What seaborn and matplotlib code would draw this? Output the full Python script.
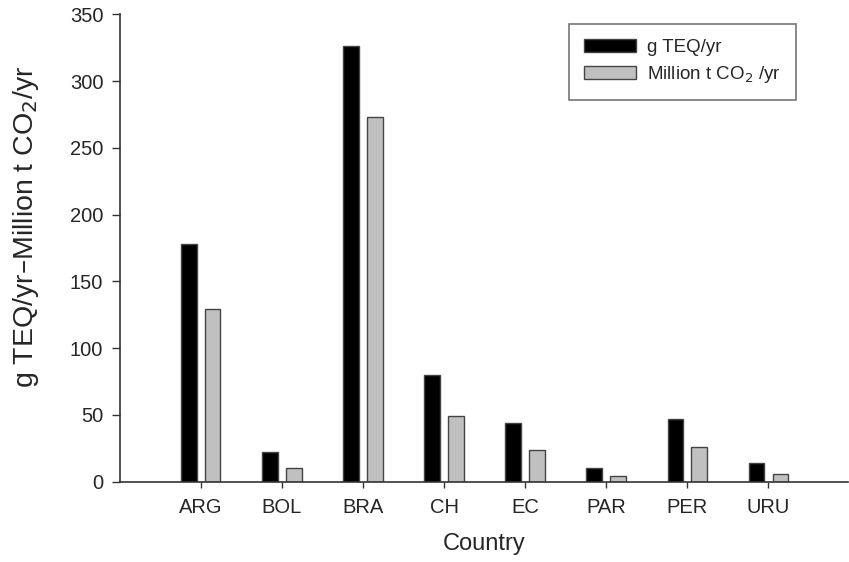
import numpy as np
import pandas as pd
import seaborn as sns
import matplotlib.pyplot as plt

countries = ['ARG', 'BOL', 'BRA', 'CH', 'EC', 'PAR', 'PER', 'URU']
teq = [178, 22, 326, 80, 44, 10, 47, 14]
co2 = [129, 10, 273, 49, 24, 4, 26, 6]
series = ['g TEQ/yr', 'Million t CO$_2$ /yr']

df = pd.DataFrame({
    'Country': countries * 2,
    'value': teq + co2,
    'series': [series[0]] * len(countries) + [series[1]] * len(countries),
})

sns.set_style('ticks')
plt.rcParams['font.family'] = ['Liberation Sans', 'DejaVu Sans']

fig = plt.figure(figsize=(8.49, 5.62), dpi=100)
ax = fig.add_axes([0.1413, 0.1429, 0.8575, 0.8317])

sns.barplot(data=df, x='Country', y='value', hue='series', ax=ax,
            palette=['black', '#c0c0c0'], width=0.59, gap=0.345,
            edgecolor='#444444', linewidth=1, saturation=1)

ax.set_ylim(0, 350)
ax.set_xlim(-0.995, 7.98)
ax.set_yticks(np.arange(0, 351, 50))
ax.tick_params(axis='y', labelsize=14.5, length=6, width=1, pad=6, color='#333333')
ax.tick_params(axis='x', labelsize=14.5, length=4, width=1, pad=8, color='#333333')
for s in ['top', 'right']:
    ax.spines[s].set_visible(False)
for s in ['left', 'bottom']:
    ax.spines[s].set_color('#333333')
    ax.spines[s].set_linewidth(1.2)

ax.set_xlabel('Country', fontsize=17, labelpad=11)
ax.set_ylabel('g TEQ/yr\u2013Million t CO$_2$/yr', fontsize=20.5)
ax.yaxis.set_label_coords(-0.108, 0.545)

leg = ax.legend(loc='upper left', bbox_to_anchor=(569 / 849, 1 - 24 / 562),
                bbox_transform=fig.transFigure, fontsize=13.5, frameon=True,
                fancybox=False, handlelength=2.75, handleheight=0.72,
                borderpad=0.8, labelspacing=0.4, handletextpad=0.6,
                borderaxespad=0)
leg.get_frame().set_edgecolor('#555555')
leg.get_frame().set_linewidth(1.2)

fig.savefig('out.png', dpi=100)
